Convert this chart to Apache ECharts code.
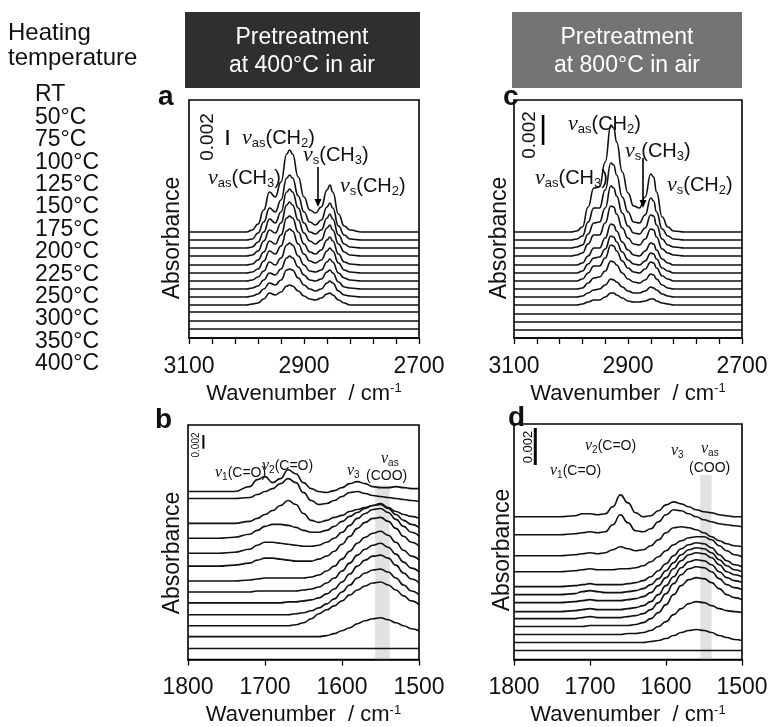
<!DOCTYPE html>
<html><head><meta charset="utf-8">
<script src="https://cdn.jsdelivr.net/npm/echarts@6/dist/echarts.min.js"></script>
<style>html,body{margin:0;padding:0;background:#fff}#c{width:774px;height:727px}</style>
</head><body><div id="c"></div>
<script>
// ---------------- data ----------------
const temperatures = ['RT','50°C','75°C','100°C','125°C','150°C','175°C','200°C','225°C','250°C','300°C','350°C','400°C'];
const headerA = ['Pretreatment', 'at 400°C in air'];
const headerC = ['Pretreatment', 'at 800°C in air'];
const ticksCH = [3100, 2900, 2700];
const ticksCO = [1800, 1700, 1600, 1500];

// wavenumber grids (cm-1)
const wnCH = [3100,3000,2990,2980,2970,2960,2950,2940,2930,2925,2920,2910,2900,2890,2880,2870,2860,2855,2850,2840,2830,2820,2800,2700];
const wnCO = [1800,1760,1740,1720,1710,1700,1690,1680,1670,1660,1650,1640,1630,1620,1610,1600,1590,1580,1570,1560,1550,1540,1530,1520,1510,1500];

// panel a : C-H region, 400 °C pretreatment (absorbance, arbitrary plot units; scale bar 0.002 = 15)
const specA = [
 [0,0,2,8,22,40,35,50,78,82,78,55,35,22,19,25,42,47,40,18,6,2,0,0],
 [0,0,1,7,18,32,28,40,62,65,62,44,28,18,15,20,33,37,32,14,5,1,0,0],
 [0,0,1,6,16,29,25,36,56,59,56,40,25,16,14,18,30,34,29,13,4,1,0,0],
 [0,0,1,5,15,26,23,33,51,54,51,36,23,15,12,16,28,31,26,12,4,1,0,0],
 [0,0,1,5,13,24,21,30,47,49,47,33,21,13,11,15,25,28,24,11,3,1,0,0],
 [0,0,1,4,12,22,19,27,42,44,42,29,19,12,10,13,22,25,22,10,3,1,0,0],
 [0,0,1,4,10,19,16,23,36,38,36,25,16,10,9,11,19,22,19,8,3,1,0,0],
 [0,0,1,3,9,16,14,20,31,33,31,22,14,9,8,10,17,19,16,7,2,1,0,0],
 [0,0,1,3,8,14,12,17,27,28,27,19,12,8,6,8,14,16,14,6,2,1,0,0],
 [0,0,1,2,6,12,10,13,19,20,19,14,9,6,5,7,11,12,10,5,2,0,0,0],
 [0,0,0,0,0,0,0,0,0,0,0,0,0,0,0,0,0,0,0,0,0,0,0,0],
 [0,0,0,0,0,0,0,0,0,0,0,0,0,0,0,0,0,0,0,0,0,0,0,0],
 [0,0,0,0,0,0,0,0,0,0,0,0,0,0,0,0,0,0,0,0,0,0,0,0]
];
const stackA = [106,98,90,82,73,65,57,49,41,33,26,17,9];

// panel c : C-H region, 800 °C pretreatment (scale bar 0.002 = 30)
const specC = [
 [0,0,1,5,25,44,45,70,107,104,90,60,39,26,24,35,58,55,40,15,5,1,0,0],
 [0,0,1,4,18,32,32,50,77,75,65,43,28,18,17,25,42,39,28,11,4,1,0,0],
 [0,0,1,3,14,25,26,40,62,60,52,35,22,15,14,20,33,32,23,9,3,1,0,0],
 [0,0,1,3,12,21,21,33,50,49,42,28,18,12,11,17,27,26,19,7,3,1,0,0],
 [0,0,0,2,9,17,17,27,41,40,34,23,15,10,9,14,22,21,15,6,2,0,0,0],
 [0,0,0,2,9,15,16,24,37,36,31,21,13,9,8,12,20,19,14,5,2,0,0,0],
 [0,0,0,2,8,15,15,23,36,35,30,20,13,9,8,12,19,18,13,5,2,0,0,0],
 [0,0,0,1,6,11,12,18,28,27,24,16,10,7,6,9,15,14,10,4,1,0,0,0],
 [0,0,0,1,4,7,8,12,18,17,15,10,6,4,4,6,10,9,7,3,1,0,0,0],
 [0,0,0,1,3,5,5,8,12,12,10,7,4,3,3,4,6,6,4,2,1,0,0,0],
 [0,0,0,0,0,0,0,0,0,0,0,0,0,0,0,0,0,0,0,0,0,0,0,0],
 [0,0,0,0,0,0,0,0,0,0,0,0,0,0,0,0,0,0,0,0,0,0,0,0],
 [0,0,0,0,0,0,0,0,0,0,0,0,0,0,0,0,0,0,0,0,0,0,0,0]
];
const stackC = [106,98,90,82,73,65,57,49,41,33,24,16,8];

// panel b : C=O / COO region, 400 °C pretreatment (scale bar 0.002 = 14)
const specB = [
 [0,0,0,5,12,15,9,13,22,18,9,3,0,-1,1,4,8,10,8,5,4,4,5,4,3,3],
 [0,0,0,1,4,7,10,15,20,16,6,-2,-6,-5,-2,2,6,7,5,3,2,1,0,-1,-2,-3],
 [0,0,0,2,5,9,13,18,23,19,10,3,1,3,6,8,12,14,16,18,20,16,12,9,7,5],
 [0,0,1,4,8,12,14,14,13,11,8,6,6,8,12,17,22,26,30,33,34,30,24,18,14,11],
 [0,0,1,4,8,11,11,10,9,8,7,7,8,11,15,21,28,35,40,44,45,41,34,27,21,17],
 [0,0,1,3,6,8,8,7,6,5,5,5,7,10,15,22,30,38,44,48,49,45,38,30,24,20],
 [0,0,0,1,2,3,3,3,3,3,3,4,6,10,15,22,30,38,44,48,50,46,39,31,25,21],
 [0,0,0,0,1,1,1,1,1,1,2,3,5,9,14,21,29,37,43,47,49,45,38,30,24,20],
 [0,0,0,0,0,0,0,0,1,1,2,3,5,9,14,21,29,37,43,47,48,45,38,30,24,20],
 [0,0,0,0,0,0,0,0,0,1,2,4,7,11,16,23,30,37,42,45,46,43,37,30,24,20],
 [0,0,0,0,0,0,0,0,0,1,3,7,12,16,20,25,31,36,40,43,44,41,36,30,25,21],
 [0,0,0,0,0,0,0,0,0,0,0,0,0,1,3,6,9,13,16,18,19,17,14,11,8,6],
 [0,0,0,0,0,0,0,0,0,0,0,0,0,0,0,0,0,0,0,0,0,0,0,0,0,0]
];
const stackB = [169,162,137,122,107,94,79,68,57,45,34,23,11];

// panel d : C=O / COO region, 800 °C pretreatment (scale bar 0.002 = 37)
const specD = [
 [0,0,0,1,3,3,2,3,10,22,14,4,0,1,6,12,15,13,10,7,5,4,2,1,0,0],
 [0,0,0,1,2,3,2,3,10,20,12,4,3,6,13,20,25,24,21,18,15,13,11,10,9,8],
 [0,0,0,1,2,3,2,3,6,9,7,5,6,10,16,23,28,29,28,26,23,19,15,12,10,9],
 [0,0,0,1,2,3,2,2,2,3,3,4,6,10,15,21,27,31,34,35,35,32,26,21,17,15],
 [0,0,0,1,2,3,2,2,2,2,3,4,6,10,16,23,31,38,42,44,43,39,32,26,22,20],
 [0,0,0,1,3,4,3,2,2,2,3,4,6,10,16,24,32,40,45,47,46,42,35,29,25,23],
 [0,0,0,1,2,3,2,2,2,2,3,4,6,10,17,25,34,42,48,50,49,45,38,31,28,26],
 [0,0,0,1,2,3,2,2,2,2,3,4,6,10,17,26,35,44,50,52,51,47,40,34,31,29],
 [0,0,0,0,1,2,1,1,1,1,2,3,5,9,16,25,35,44,50,52,51,47,40,34,31,29],
 [0,0,0,0,0,1,1,1,1,1,1,2,4,8,14,22,32,41,47,49,48,44,38,32,29,27],
 [0,0,0,0,0,0,0,0,0,0,1,1,2,4,8,13,20,26,31,33,32,29,26,24,23,22],
 [0,0,0,0,0,0,0,0,0,0,0,0,0,1,2,4,7,10,12,13,12,10,7,5,3,2],
 [0,0,0,0,0,0,0,0,0,0,0,0,0,0,0,0,0,0,0,0,0,0,0,0,0,0]
];
const stackD = [143,125,104,88,73,65,57,48,41,33,25,17,9];

// scale bars (0.002 absorbance) : [wavenumber, base, length]
const barA = [3033, 193, 15];
const barC = [3049, 193, 30];
const barB = [1780, 212, 14];
const barD = [1772, 195, 37];
// shaded nu_as(COO) band : [high wn, low wn, top]
const bandB = [1557, 1538, 175];
const bandD = [1555, 1540, 185];

// ---------------- chart ----------------
const FONT = '"Liberation Sans", Arial, sans-serif';
const INK = '#111';
const chart = echarts.init(document.getElementById('c'), null, {renderer: 'canvas', width: 774, height: 727});

const grids = [
  {left: 189, top: 100, width: 230, height: 238},
  {left: 188, top: 425, width: 231, height: 236},
  {left: 514, top: 100, width: 228, height: 238},
  {left: 514, top: 424, width: 228, height: 236}
].map(g => Object.assign(g, {show: true, borderColor: '#000', borderWidth: 1.6, backgroundColor: 'transparent'}));

function xAx(gi, ticks, minor) {
  const min = Math.min(...ticks), max = Math.max(...ticks);
  return {
    gridIndex: gi, type: 'value', min: min, max: max, interval: ticks[0] - ticks[1], inverse: true,
    axisLine: {show: true, onZero: false, lineStyle: {color: '#000', width: 1.6}},
    axisTick: {show: true, inside: false, length: 6, lineStyle: {color: '#000', width: 1.3}},
    minorTick: {show: minor, splitNumber: 5, length: 6, lineStyle: {color: '#000', width: 1.3}},
    splitLine: {show: false}, minorSplitLine: {show: false},
    axisLabel: {fontSize: 23, color: INK, fontFamily: FONT, margin: 17, showMinLabel: true, showMaxLabel: true,
      formatter: v => String(v)},
    name: '{m|Wavenumber  / cm}{s|-1}', nameLocation: 'middle', nameGap: 44,
    nameTextStyle: {rich: {
      m: {fontSize: 22, fontFamily: FONT, color: INK},
      s: {fontSize: 13, fontFamily: FONT, color: INK, padding: [0, 0, 10, 0]}
    }}
  };
}
const xAxes = [xAx(0, ticksCH, true), xAx(1, ticksCO, false), xAx(2, ticksCH, true), xAx(3, ticksCO, false)];
const yAxes = grids.map((g, i) => ({gridIndex: i, type: 'value', min: 0, max: g.height, show: false}));

const series = [];
function addPanel(gi, wn, spec, stack) {
  spec.forEach((s, i) => {
    series.push({
      type: 'line', xAxisIndex: gi, yAxisIndex: gi, name: temperatures[i],
      data: wn.map((w, j) => [w, stack[i] + s[j]]),
      showSymbol: false, symbol: 'none', smooth: 0.5, smoothMonotone: 'x',
      lineStyle: {color: INK, width: 1.6}, silent: true, z: 3
    });
  });
}
addPanel(0, wnCH, specA, stackA);
addPanel(1, wnCO, specB, stackB);
addPanel(2, wnCH, specC, stackC);
addPanel(3, wnCO, specD, stackD);

function addBar(gi, bar, w) {
  series.push({type: 'line', xAxisIndex: gi, yAxisIndex: gi, data: [[bar[0], bar[1]], [bar[0], bar[1] + bar[2]]],
    symbol: 'none', lineStyle: {color: '#000', width: w}, silent: true, z: 4});
}
addBar(0, barA, 2.2); addBar(1, barB, 2); addBar(2, barC, 2.6); addBar(3, barD, 3);

function addBand(gi, band) {
  series.push({type: 'line', xAxisIndex: gi, yAxisIndex: gi, data: [], silent: true, z: 1,
    markArea: {silent: true, itemStyle: {color: 'rgba(150,150,150,0.28)'},
      data: [[{coord: [band[0], band[2]]}, {coord: [band[1], 0]}]]}});
}
addBand(1, bandB); addBand(3, bandD);

// ---------------- text / graphics ----------------
const richBig = {
  n: {fontFamily: '"Liberation Serif", serif', fontStyle: 'italic', fontSize: 22, color: INK},
  t: {fontFamily: FONT, fontSize: 20, color: INK},
  u: {fontFamily: FONT, fontSize: 13, color: INK, padding: [11, 0, 0, 0]}
};
const richSmall = {
  n: {fontFamily: '"Liberation Serif", serif', fontStyle: 'italic', fontSize: 16, color: INK},
  t: {fontFamily: FONT, fontSize: 14, color: INK},
  u: {fontFamily: FONT, fontSize: 10, color: INK, padding: [8, 0, 0, 0]}
};
function txt(x, y, text, opts) {
  return Object.assign({type: 'text', x: x, y: y, z: 10, silent: true,
    style: Object.assign({text: text, fill: INK, font: '23px ' + FONT, align: 'left', verticalAlign: 'middle',
      textAlign: 'left', textVerticalAlign: 'middle'}, opts && opts.style)}, opts && opts.el);
}
function rt(x, y, text, rich) {
  return {type: 'text', x: x, y: y, z: 2, silent: true,
    style: {text: text, rich: rich, fill: INK, align: 'left', verticalAlign: 'middle', textAlign: 'left', textVerticalAlign: 'middle'}};
}
function vtxt(x, y, text, size) {
  return {type: 'text', x: x, y: y, rotation: Math.PI / 2, z: 10, silent: true,
    style: {text: text, fill: INK, font: size + 'px ' + FONT, align: 'center', verticalAlign: 'middle', textAlign: 'center', textVerticalAlign: 'middle'}};
}
function arrow(x, y0, y1) {
  return [
    {type: 'line', z: 5, silent: true, shape: {x1: x, y1: y0, x2: x, y2: y1 - 5}, style: {stroke: '#000', lineWidth: 1.6}},
    {type: 'polygon', z: 5, silent: true, shape: {points: [[x - 3.5, y1 - 8], [x + 3.5, y1 - 8], [x, y1]]}, style: {fill: '#000'}}
  ];
}

const graphics = [];
// left legend
graphics.push(txt(8, 33, 'Heating', {style: {font: '24px ' + FONT}}));
graphics.push(txt(8, 58, 'temperature', {style: {font: '24px ' + FONT}}));
temperatures.forEach((t, i) => graphics.push(txt(35, 95 + i * 22.4, t, {style: {font: '23px ' + FONT}})));
// headers
graphics.push({type: 'rect', z: 1, silent: true, shape: {x: 185, y: 12, width: 235, height: 76}, style: {fill: '#2f2f2f'}});
graphics.push({type: 'rect', z: 1, silent: true, shape: {x: 512, y: 12, width: 230, height: 76}, style: {fill: '#747474'}});
[[302, headerA], [627, headerC]].forEach(([cx, h]) => {
  graphics.push(txt(cx, 38, h[0], {style: {fill: '#fff', font: '23px ' + FONT, align: 'center', textAlign: 'center'}}));
  graphics.push(txt(cx, 66, h[1], {style: {fill: '#fff', font: '23px ' + FONT, align: 'center', textAlign: 'center'}}));
});
// panel letters
const letterFont = 'bold 28px ' + FONT;
graphics.push(txt(158, 97, 'a', {style: {font: letterFont}}));
graphics.push(txt(155, 420, 'b', {style: {font: letterFont}}));
graphics.push(txt(503, 97, 'c', {style: {font: letterFont}}));
graphics.push(txt(508, 418, 'd', {style: {font: letterFont}}));
// y labels
graphics.push(vtxt(173, 238, 'Absorbance', 23));
graphics.push(vtxt(173, 553, 'Absorbance', 23));
graphics.push(vtxt(500, 238, 'Absorbance', 23));
graphics.push(vtxt(503, 550, 'Absorbance', 23));
// scale bar labels
graphics.push(vtxt(208, 137, '0.002', 19));
graphics.push(vtxt(530, 135, '0.002', 19));
graphics.push(vtxt(196, 445, '0.002', 10));
graphics.push(vtxt(528, 447, '0.002', 13));
// band annotations panel a
graphics.push(rt(242, 138, '{n|ν}{u|as}{t|(CH}{u|2}{t|)}', richBig));
graphics.push(rt(208, 178, '{n|ν}{u|as}{t|(CH}{u|3}{t|)}', richBig));
graphics.push(rt(303, 155, '{n|ν}{u|s}{t|(CH}{u|3}{t|)}', richBig));
graphics.push(rt(340, 186, '{n|ν}{u|s}{t|(CH}{u|2}{t|)}', richBig));
graphics.push(...arrow(318, 167, 207));
// panel c
graphics.push(rt(568, 124, '{n|ν}{u|as}{t|(CH}{u|2}{t|)}', richBig));
graphics.push(rt(625, 151, '{n|ν}{u|s}{t|(CH}{u|3}{t|)}', richBig));
graphics.push(rt(535, 178, '{n|ν}{u|as}{t|(CH}{u|3}{t|)}', richBig));
graphics.push(rt(667, 185, '{n|ν}{u|s}{t|(CH}{u|2}{t|)}', richBig));
graphics.push(...arrow(643, 158, 208));
// panel b
graphics.push(rt(215, 473, '{n|ν}{u|1}{t|(C=O)}', richSmall));
graphics.push(rt(262, 466, '{n|ν}{u|2}{t|(C=O)}', richSmall));
graphics.push(rt(347, 471, '{n|ν}{u|3}', richSmall));
graphics.push(rt(381, 459, '{n|ν}{u|as}', richSmall));
graphics.push(rt(366, 476, '{t|(COO)}', richSmall));
// panel d
graphics.push(rt(585, 446, '{n|ν}{u|2}{t|(C=O)}', richSmall));
graphics.push(rt(550, 471, '{n|ν}{u|1}{t|(C=O)}', richSmall));
graphics.push(rt(671, 451, '{n|ν}{u|3}', richSmall));
graphics.push(rt(701, 449, '{n|ν}{u|as}', richSmall));
graphics.push(rt(689, 468, '{t|(COO)}', richSmall));

chart.setOption({
  animation: false,
  backgroundColor: '#fff',
  grid: grids,
  xAxis: xAxes,
  yAxis: yAxes,
  series: series,
  graphic: {elements: graphics}
});
</script>
</body></html>
